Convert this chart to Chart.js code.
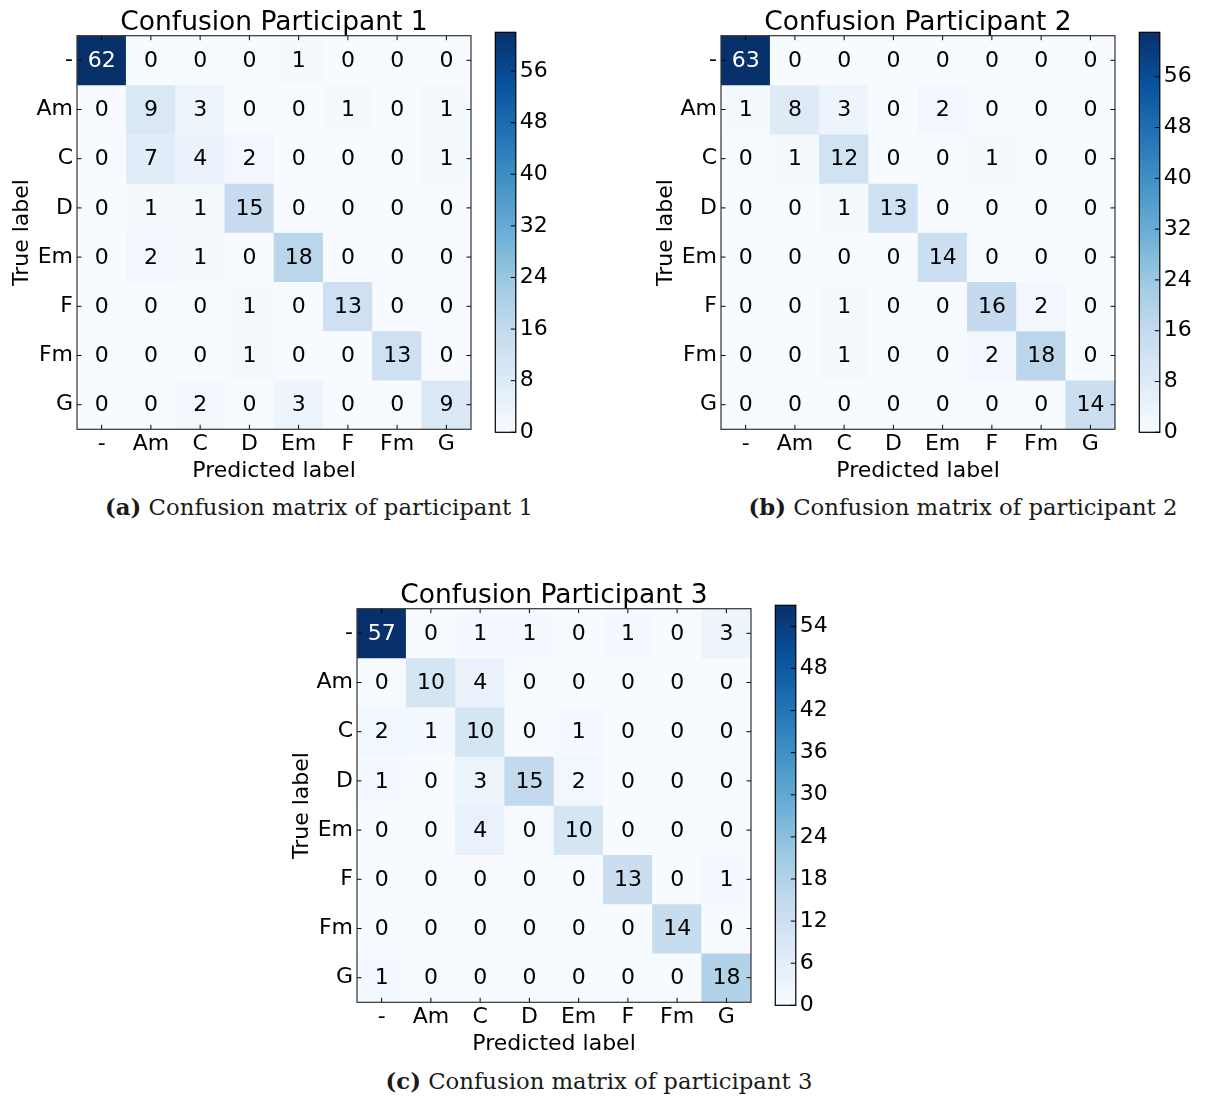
<!DOCTYPE html>
<html>
<head>
<meta charset="utf-8">
<script src="https://cdn.jsdelivr.net/npm/chart.js@4.4.1/dist/chart.umd.min.js"></script>
<style>
  html, body { margin: 0; padding: 0; background: #fff; }
  #page { position: relative; width: 1207px; height: 1099px; overflow: hidden; }
  #page canvas { position: absolute; }
  .cap { position: absolute; white-space: nowrap; font-family: 'DejaVu Serif', serif; color: #1a1a1a; line-height: 1; }
  .cap b { font-weight: bold; }
  .base { display: inline-block; width: 0; height: 0; vertical-align: baseline; }
</style>
</head>
<body>
<div id="page">
  <canvas id="m1" width="490" height="490" style="left:0px;top:0px;width:490px;height:490px"></canvas>
  <canvas id="c1" width="80" height="480" style="left:480px;top:0px;width:80px;height:480px"></canvas>
  <canvas id="m2" width="490" height="490" style="left:644px;top:0px;width:490px;height:490px"></canvas>
  <canvas id="c2" width="80" height="480" style="left:1124px;top:0px;width:80px;height:480px"></canvas>
  <canvas id="m3" width="490" height="490" style="left:280px;top:573px;width:490px;height:490px"></canvas>
  <canvas id="c3" width="80" height="480" style="left:760px;top:573px;width:80px;height:480px"></canvas>
  <div class="cap" id="capA"><b>(a)</b> Confusion matrix of participant 1<span class="base"></span></div>
  <div class="cap" id="capB"><b>(b)</b> Confusion matrix of participant 2<span class="base"></span></div>
  <div class="cap" id="capC"><b>(c)</b> Confusion matrix of participant 3<span class="base"></span></div>
</div>
<script>
// Chord classes (rows = true label, columns = predicted label)
const classLabels = ['-', 'Am', 'C', 'D', 'Em', 'F', 'Fm', 'G'];

// Confusion counts per participant
const participant1 = [
  [62, 0, 0, 0, 1, 0, 0, 0],
  [0, 9, 3, 0, 0, 1, 0, 1],
  [0, 7, 4, 2, 0, 0, 0, 1],
  [0, 1, 1, 15, 0, 0, 0, 0],
  [0, 2, 1, 0, 18, 0, 0, 0],
  [0, 0, 0, 1, 0, 13, 0, 0],
  [0, 0, 0, 1, 0, 0, 13, 0],
  [0, 0, 2, 0, 3, 0, 0, 9]
];
const participant2 = [
  [63, 0, 0, 0, 0, 0, 0, 0],
  [1, 8, 3, 0, 2, 0, 0, 0],
  [0, 1, 12, 0, 0, 1, 0, 0],
  [0, 0, 1, 13, 0, 0, 0, 0],
  [0, 0, 0, 0, 14, 0, 0, 0],
  [0, 0, 1, 0, 0, 16, 2, 0],
  [0, 0, 1, 0, 0, 2, 18, 0],
  [0, 0, 0, 0, 0, 0, 0, 14]
];
const participant3 = [
  [57, 0, 1, 1, 0, 1, 0, 3],
  [0, 10, 4, 0, 0, 0, 0, 0],
  [2, 1, 10, 0, 1, 0, 0, 0],
  [1, 0, 3, 15, 2, 0, 0, 0],
  [0, 0, 4, 0, 10, 0, 0, 0],
  [0, 0, 0, 0, 0, 13, 0, 1],
  [0, 0, 0, 0, 0, 0, 14, 0],
  [1, 0, 0, 0, 0, 0, 0, 18]
];

// Colour bar tick values
const colorbarTicks1 = [0, 8, 16, 24, 32, 40, 48, 56];
const colorbarTicks2 = [0, 8, 16, 24, 32, 40, 48, 56];
const colorbarTicks3 = [0, 6, 12, 18, 24, 30, 36, 42, 48, 54];

const panelTitles = ['Confusion Participant 1', 'Confusion Participant 2', 'Confusion Participant 3'];

Chart.defaults.font.family = "'DejaVu Sans', sans-serif";
Chart.defaults.color = '#000';

// "Blues" sequential colour map
const BLUES = ['#f7fbff', '#deebf7', '#c6dbef', '#9ecae1', '#6baed6', '#4292c6', '#2171b5', '#08519c', '#08306b'];
function hexRgb(h) { return [1, 3, 5].map(i => parseInt(h.substr(i, 2), 16)); }
function blues(t) {
  t = Math.max(0, Math.min(1, t));
  const p = t * (BLUES.length - 1);
  const i = Math.min(Math.floor(p), BLUES.length - 2);
  const f = p - i;
  const a = hexRgb(BLUES[i]), b = hexRgb(BLUES[i + 1]);
  const c = a.map((v, k) => Math.round(v + (b[k] - v) * f));
  return `rgb(${c[0]},${c[1]},${c[2]})`;
}

const TICK = 4.5;
const FONT = 22;

// Cell counts, inward tick marks and frame on the heat map
const matrixOverlay = {
  id: 'matrixOverlay',
  afterDatasetsDraw(chart, args, opts) {
    const {ctx, chartArea: a, scales: {x, y}} = chart;
    const counts = opts.counts;
    const vmax = Math.max(...counts.flat());
    ctx.save();
    ctx.font = `${FONT}px 'DejaVu Sans', sans-serif`;
    ctx.textAlign = 'center';
    ctx.textBaseline = 'middle';
    counts.forEach((row, r) => row.forEach((v, c) => {
      ctx.fillStyle = v > vmax / 2 ? '#fff' : '#000';
      ctx.fillText(String(v), x.getPixelForValue(c), y.getPixelForValue(r) + 1);
    }));
    ctx.strokeStyle = '#000';
    ctx.lineWidth = 1;
    ctx.beginPath();
    classLabels.forEach((_, i) => {
      const px = x.getPixelForValue(i);
      ctx.moveTo(px, a.top); ctx.lineTo(px, a.top + TICK);
      ctx.moveTo(px, a.bottom); ctx.lineTo(px, a.bottom - TICK);
      const py = y.getPixelForValue(i);
      ctx.moveTo(a.left, py); ctx.lineTo(a.left + TICK, py);
      ctx.moveTo(a.right, py); ctx.lineTo(a.right - TICK, py);
    });
    ctx.stroke();
    ctx.strokeStyle = '#333';
    ctx.lineWidth = 1.2;
    ctx.strokeRect(a.left, a.top, a.right - a.left, a.bottom - a.top);
    ctx.restore();
  }
};

// Frame and inward ticks on the colour bar
const colorbarOverlay = {
  id: 'colorbarOverlay',
  afterDatasetsDraw(chart) {
    const {ctx, chartArea: a, scales: {y}} = chart;
    ctx.save();
    ctx.strokeStyle = '#000';
    ctx.lineWidth = 1;
    ctx.beginPath();
    y.ticks.forEach(t => {
      const py = y.getPixelForValue(t.value);
      ctx.moveTo(a.right, py); ctx.lineTo(a.right - 5, py);
    });
    ctx.stroke();
    ctx.lineWidth = 1.2;
    ctx.strokeRect(a.left, a.top, a.right - a.left, a.bottom - a.top);
    ctx.restore();
  }
};

function matrixChart(id, title, counts) {
  const vmax = Math.max(...counts.flat());
  const datasets = counts.map((row, r) => ({
    label: classLabels[r],
    data: row.map(() => [r - 0.5, r + 0.5]),
    backgroundColor: row.map(v => blues(v / vmax)),
    borderWidth: 0,
    grouped: false,
    barPercentage: 1,
    categoryPercentage: 1
  }));
  return new Chart(document.getElementById(id), {
    type: 'bar',
    data: { labels: classLabels, datasets },
    plugins: [matrixOverlay],
    options: {
      responsive: false,
      animation: false,
      events: [],
      layout: { padding: { left: 0, top: 0, right: 19, bottom: 0 } },
      plugins: {
        legend: { display: false },
        tooltip: { enabled: false },
        title: {
          display: true, text: title, fullSize: false, color: '#000',
          font: { size: 26.5, weight: 'normal' }, padding: { top: 7.4, bottom: -3.5 }
        },
        matrixOverlay: { counts }
      },
      scales: {
        x: {
          type: 'category', offset: true,
          grid: { display: false, drawTicks: false }, border: { display: false },
          ticks: { color: '#000', font: { size: FONT }, padding: 2, autoSkip: false, maxRotation: 0 },
          title: { display: true, text: 'Predicted label', color: '#000', font: { size: FONT }, padding: { top: 0, bottom: 5.5 } },
          afterFit: s => { s.height = 60.7; }
        },
        y: {
          type: 'linear', min: -0.5, max: 7.5, reverse: true,
          grid: { display: false, drawTicks: false }, border: { display: false },
          afterBuildTicks: s => { s.ticks = classLabels.map((_, i) => ({ value: i })); },
          ticks: { color: '#000', font: { size: FONT }, padding: 4, autoSkip: false, callback: v => classLabels[v] },
          title: { display: true, text: 'True label', color: '#000', font: { size: FONT }, padding: { top: 9.5, bottom: 0 } },
          afterFit: s => { s.width = 77; }
        }
      }
    }
  });
}

function colorbarChart(id, counts, ticks) {
  const vmax = Math.max(...counts.flat());
  return new Chart(document.getElementById(id), {
    type: 'bar',
    data: {
      labels: [''],
      datasets: [{
        data: [[0, vmax]],
        borderWidth: 0,
        barPercentage: 1,
        categoryPercentage: 1,
        backgroundColor: ctx => {
          const chart = ctx.chart;
          const y = chart.scales.y;
          if (!chart.chartArea || !y) return BLUES[4];
          const g = chart.ctx.createLinearGradient(0, y.getPixelForValue(0), 0, y.getPixelForValue(vmax));
          BLUES.forEach((col, i) => g.addColorStop(i / (BLUES.length - 1), col));
          return g;
        }
      }]
    },
    plugins: [colorbarOverlay],
    options: {
      responsive: false,
      animation: false,
      events: [],
      layout: { padding: { left: 15.3, top: 32.3, right: 0, bottom: 47.7 } },
      plugins: { legend: { display: false }, tooltip: { enabled: false } },
      scales: {
        x: { display: false },
        y: {
          position: 'right', min: 0, max: vmax,
          grid: { display: false, drawTicks: false }, border: { display: false },
          afterBuildTicks: s => { s.ticks = ticks.map(v => ({ value: v })); },
          ticks: { color: '#000', font: { size: FONT }, padding: 4 },
          afterFit: s => { s.width = 44.2; }
        }
      }
    }
  });
}

matrixChart('m1', panelTitles[0], participant1);
colorbarChart('c1', participant1, colorbarTicks1);
matrixChart('m2', panelTitles[1], participant2);
colorbarChart('c2', participant2, colorbarTicks2);
matrixChart('m3', panelTitles[2], participant3);
colorbarChart('c3', participant3, colorbarTicks3);

// Sub-figure captions: centred under each panel, sitting on a common baseline
(function placeCaptions() {
  const specs = [['capA', 319, 515], ['capB', 963, 515], ['capC', 599, 1089]];
  const probe = document.getElementById('capA');
  probe.style.fontSize = '24px';
  const size = 24 * 428 / probe.getBoundingClientRect().width;
  specs.forEach(([id, cx, baseY]) => {
    const el = document.getElementById(id);
    el.style.fontSize = size + 'px';
    el.style.left = '0px';
    el.style.top = '0px';
    const w = el.getBoundingClientRect().width;
    const base = el.querySelector('.base').offsetTop;
    el.style.left = (cx - w / 2) + 'px';
    el.style.top = (baseY - base) + 'px';
  });
})();
</script>
</body>
</html>
